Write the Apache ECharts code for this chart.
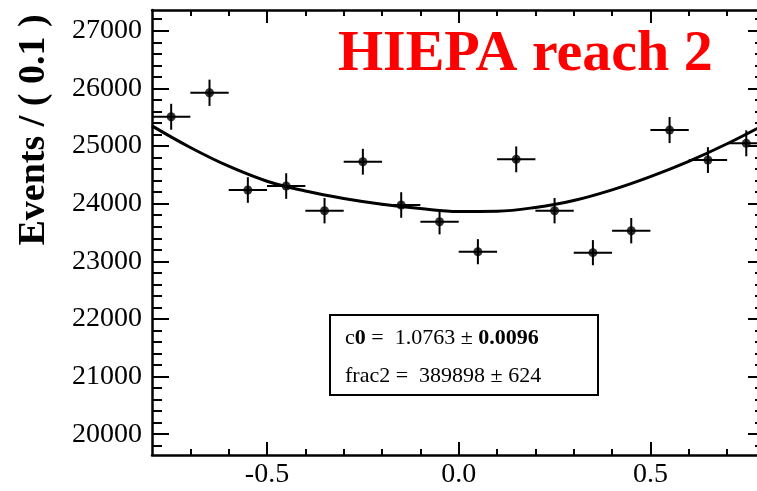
<!DOCTYPE html>
<html><head><meta charset="utf-8">
<script src="https://cdn.jsdelivr.net/npm/echarts@6/dist/echarts.min.js"></script>
<style>html,body{margin:0;padding:0;background:#fff;overflow:hidden}#c{width:757px;height:491px}</style>
</head><body><div id="c"></div>
<script>
// ---- data ----
const binCenters = [-0.75, -0.65, -0.55, -0.45, -0.35, -0.25, -0.15, -0.05, 0.05, 0.15, 0.25, 0.35, 0.45, 0.55, 0.65, 0.75];
const events     = [25508, 25924, 24237, 24306, 23878, 24728, 23977, 23687, 23167, 24769, 23878, 23150, 23531, 25277, 24757, 25047];
const eventErrors = [225, 228, 222, 222, 220, 224, 222, 220, 218, 224, 220, 218, 220, 226, 224, 225];
const binHalfWidths = [0.05, 0.05, 0.05, 0.05, 0.05, 0.05, 0.05, 0.05, 0.05, 0.05, 0.05, 0.05, 0.05, 0.05, 0.05, 0.05];
const fitX = [-0.8, -0.7, -0.6, -0.5, -0.4, -0.3, -0.2, -0.1, 0.0, 0.1, 0.2, 0.3, 0.4, 0.5, 0.6, 0.7, 0.8];
const fitY = [25350, 24975, 24650, 24390, 24220, 24090, 23990, 23915, 23865, 23870, 23935, 24055, 24240, 24470, 24735, 25040, 25380];
const xMajorTicks = [-0.5, 0.0, 0.5];
const xMinorTicks = [-0.7, -0.6, -0.4, -0.3, -0.2, -0.1, 0.1, 0.2, 0.3, 0.4, 0.6, 0.7];
const yMajorTicks = [20000, 21000, 22000, 23000, 24000, 25000, 26000, 27000];
const yMinorTicks = [19800, 20200, 20400, 20600, 20800, 21200, 21400, 21600, 21800, 22200, 22400, 22600, 22800,
  23200, 23400, 23600, 23800, 24200, 24400, 24600, 24800, 25200, 25400, 25600, 25800, 26200, 26400, 26600, 26800, 27200];
const titleText = 'HIEPA reach 2';
const yTitle = 'Events / ( 0.1 )';

const SERIF = '"Liberation Serif", "DejaVu Serif", serif';
// the reference picture is cropped on the right, just before x = 0.8
const X_MIN = -0.8, X_MAX = 0.778, Y_MIN = 19640, Y_MAX = 27360;

function xAx(pos, ticks, len, labels, line) {
  return {
    type: 'value', position: pos, min: X_MIN, max: X_MAX, gridIndex: 0,
    axisLine: { show: line, onZero: false, lineStyle: { color: '#000', width: 2.5 } },
    axisTick: { show: true, inside: true, length: len, customValues: ticks, lineStyle: { color: '#000', width: 2 } },
    axisLabel: labels ? { show: true, customValues: xMajorTicks, margin: 6, color: '#000',
      fontFamily: SERIF, fontSize: 28, formatter: v => Number(v).toFixed(1) } : { show: false },
    splitLine: { show: false }
  };
}
function yAx(pos, ticks, len, labels, line) {
  return {
    type: 'value', position: pos, min: Y_MIN, max: Y_MAX, gridIndex: 0,
    axisLine: { show: line, onZero: false, lineStyle: { color: '#000', width: 2.5 } },
    axisTick: { show: true, inside: true, length: len, customValues: ticks, lineStyle: { color: '#000', width: 2 } },
    axisLabel: labels ? { show: true, customValues: yMajorTicks, margin: 10, color: '#000',
      fontFamily: SERIF, fontSize: 28, formatter: v => String(v) } : { show: false },
    splitLine: { show: false }
  };
}

const chart = echarts.init(document.getElementById('c'), null, { renderer: 'canvas' });
chart.setOption({
  animation: false,
  backgroundColor: '#fff',
  grid: { left: 152, top: 10, right: 0, bottom: 36, containLabel: false },
  xAxis: [
    xAx('bottom', xMajorTicks, 13, true, true),
    xAx('bottom', xMinorTicks, 6, false, false),
    xAx('top', xMajorTicks, 13, false, true),
    xAx('top', xMinorTicks, 6, false, false)
  ],
  yAxis: [
    yAx('left', yMajorTicks, 17, true, true),
    yAx('left', yMinorTicks, 10, false, false),
    yAx('right', yMajorTicks, 9, false, false),
    yAx('right', yMinorTicks, 2, false, false)
  ],
  series: [
    {
      type: 'line', xAxisIndex: 0, yAxisIndex: 0,
      data: fitX.map((x, i) => [x, fitY[i]]),
      smooth: 0.4, showSymbol: false, symbol: 'none',
      lineStyle: { color: '#000', width: 3 }, z: 3
    },
    {
      type: 'custom', xAxisIndex: 0, yAxisIndex: 0,
      data: binCenters.map((x, i) => [x, events[i], eventErrors[i], binHalfWidths[i]]),
      encode: { x: 0, y: 1 },
      renderItem: function (params, api) {
        const x = api.value(0), y = api.value(1), e = api.value(2), w = api.value(3);
        const l = api.coord([x - w, y]), r = api.coord([x + w, y]);
        const t = api.coord([x, y + e]), b = api.coord([x, y - e]);
        const st = { stroke: '#000', lineWidth: 2 };
        return { type: 'group', children: [
          { type: 'line', shape: { x1: l[0], y1: l[1], x2: r[0], y2: r[1] }, style: st },
          { type: 'line', shape: { x1: t[0], y1: t[1], x2: b[0], y2: b[1] }, style: st }
        ] };
      },
      z: 4
    },
    {
      type: 'scatter', xAxisIndex: 0, yAxisIndex: 0,
      data: binCenters.map((x, i) => [x, events[i]]),
      symbol: 'circle', symbolSize: 9, itemStyle: { color: '#000' }, z: 5
    }
  ],
  graphic: [
    { type: 'text', left: 338, top: 26, z: 10,
      style: { text: titleText, fill: '#ff0000', font: 'bold 58px ' + SERIF } },
    { type: 'text', x: 34, y: 130, rotation: Math.PI / 2, z: 10,
      style: { text: yTitle, fill: '#000', font: 'bold 38px ' + SERIF, textAlign: 'center', textVerticalAlign: 'middle' } },
    { type: 'rect', shape: { x: 330, y: 315, width: 268, height: 80 }, z: 10,
      style: { fill: '#fff', stroke: '#000', lineWidth: 2 } },
    { type: 'text', x: 345, y: 338, z: 11,
      style: { text: '{n|c}{b|0}{n| =  1.0763 \u00b1 }{b|0.0096}', textVerticalAlign: 'middle', textAlign: 'left',
        rich: { n: { fontFamily: SERIF, fontSize: 22, fill: '#000' }, b: { fontFamily: SERIF, fontSize: 22, fontWeight: 'bold', fill: '#000' } } } },
    { type: 'text', x: 345, y: 376, z: 11,
      style: { text: 'frac2 =  389898 \u00b1 624', textVerticalAlign: 'middle', textAlign: 'left',
        font: '22px ' + SERIF, fill: '#000' } }
  ]
});
</script></body></html>
